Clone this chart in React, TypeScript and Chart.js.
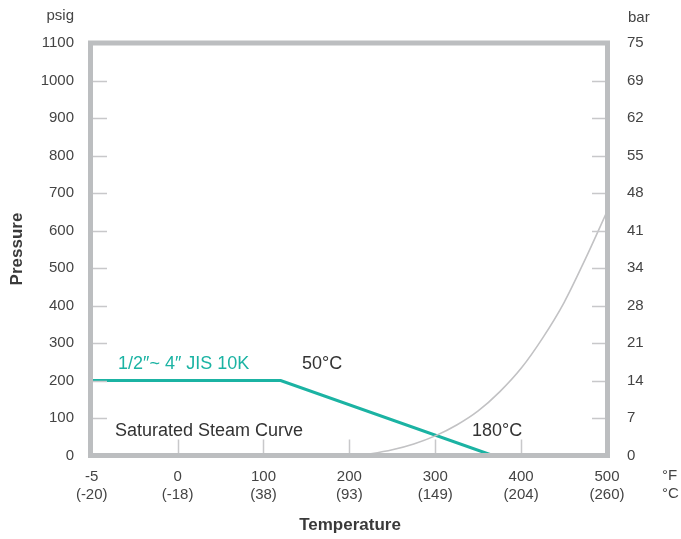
import React, { useEffect, useRef } from "react";
import { Chart, registerables } from "chart.js";

Chart.register(...registerables);

// Axis labels
const tempFLabels = ["-5", "0", "100", "200", "300", "400", "500"];
const tempCLabels = ["(-20)", "(-18)", "(38)", "(93)", "(149)", "(204)", "(260)"];
const psigTicks = [0, 100, 200, 300, 400, 500, 600, 700, 800, 900, 1000, 1100];
const barLabels = ["0", "7", "14", "21", "28", "34", "41", "48", "55", "62", "69", "75"];

// JIS 10K rating line (°F, psig)
const jisTempF = [-5, 120, 367];
const jisPsig = [200, 200, 0];

// Saturated steam curve (°F, psig)
const steamTempF = [212, 225, 250, 275, 300, 325, 350, 375, 400, 425, 450, 475, 500];
const steamPsig = [0, 4.3, 15.1, 30.7, 52.3, 81.4, 119.0, 169.7, 232.5, 313.1, 407.9, 525, 650.6];

// axis position: -5 -> 0, 0 -> 1, 100 -> 2, ... 500 -> 6
const pos = (f: number) => (f < 0 ? (f + 5) / 5 : 1 + f / 100);

const FONT = '"Liberation Sans", Arial, Helvetica, sans-serif';
const TEXT = "#444444";
const TEAL = "#1bb3a3";
const FRAME = "#bcbec0";
const TICK = "#c8c8ca";

const decor = {
  id: "decor",
  afterDatasetsDraw(chart: any) {
    const { ctx, chartArea: a, scales } = chart;
    const x = scales.x;
    const y = scales.y;
    ctx.save();
    // short ticks
    ctx.strokeStyle = TICK;
    ctx.lineWidth = 1.5;
    ctx.beginPath();
    for (let i = 1; i < psigTicks.length - 1; i++) {
      const py = Math.round(y.getPixelForValue(psigTicks[i])) + 0.5;
      ctx.moveTo(a.left, py);
      ctx.lineTo(a.left + 17, py);
      ctx.moveTo(a.right - 15, py);
      ctx.lineTo(a.right, py);
    }
    for (let i = 1; i < tempFLabels.length - 1; i++) {
      const px = Math.round(x.getPixelForValue(i)) + 0.5;
      ctx.moveTo(px, a.bottom);
      ctx.lineTo(px, a.bottom - 16);
    }
    ctx.stroke();
    // frame
    ctx.strokeStyle = FRAME;
    ctx.lineWidth = 5;
    ctx.strokeRect(a.left + 0.5, a.top, a.right - a.left, a.bottom - a.top);

    // annotations
    ctx.font = `18px ${FONT}`;
    ctx.textBaseline = "middle";
    ctx.textAlign = "left";
    ctx.fillStyle = TEAL;
    ctx.fillText("1/2″~ 4″ JIS 10K", 118, 364);
    ctx.fillStyle = "#333333";
    ctx.fillText("50°C", 302, 364);
    ctx.fillText("Saturated Steam Curve", 115, 431);
    ctx.fillText("180°C", 472, 431);

    // unit labels
    ctx.font = `15px ${FONT}`;
    ctx.fillStyle = TEXT;
    ctx.textAlign = "right";
    ctx.fillText("psig", 74, 16);
    ctx.textAlign = "left";
    ctx.fillText("bar", 628, 18);
    ctx.fillText("°F", 662, 476);
    ctx.fillText("°C", 662, 494);

    // axis titles
    ctx.font = `bold 17px ${FONT}`;
    ctx.fillStyle = "#3a3a3a";
    ctx.textAlign = "center";
    ctx.fillText("Temperature", 350, 525);
    ctx.save();
    ctx.translate(17, 249);
    ctx.rotate(-Math.PI / 2);
    ctx.fillText("Pressure", 0, 0);
    ctx.restore();
    ctx.restore();
  },
};

export default function App() {
  const ref = useRef<HTMLCanvasElement>(null);
  useEffect(() => {
    document.body.style.margin = "0";
    const canvas = ref.current!;
    const chart = new Chart(canvas, {
      type: "line",
      data: {
        datasets: [
          {
            label: "Saturated Steam Curve",
            data: steamTempF.map((f, i) => ({ x: pos(f), y: steamPsig[i] })),
            borderColor: "#c2c2c4",
            borderWidth: 1.6,
            pointRadius: 0,
            cubicInterpolationMode: "monotone",
            fill: false,
          },
          {
            label: "1/2″~ 4″ JIS 10K",
            data: jisTempF.map((f, i) => ({ x: pos(f), y: jisPsig[i] })),
            borderColor: TEAL,
            borderWidth: 3,
            pointRadius: 0,
            tension: 0,
            fill: false,
          },
        ],
      },
      options: {
        responsive: false,
        animation: false,
        devicePixelRatio: 1,
        layout: { padding: { top: 43, left: 0, right: 0, bottom: 0 } },
        plugins: { legend: { display: false }, tooltip: { enabled: false }, title: { display: false } },
        scales: {
          x: {
            type: "linear",
            position: "bottom",
            min: -0.02,
            max: 6,
            grid: { display: false, drawTicks: false },
            border: { display: false },
            afterBuildTicks: (s: any) => {
              s.ticks = tempFLabels.map((_, i) => ({ value: i }));
            },
            afterFit: (s: any) => {
              s.height = 83.5;
            },
            ticks: {
              autoSkip: false,
              maxRotation: 0,
              padding: 12,
              color: TEXT,
              font: { size: 15, family: FONT, lineHeight: 1.2 },
              callback: (v: any) => {
                const i = Math.round(Number(v));
                return [tempFLabels[i], tempCLabels[i]];
              },
            },
          },
          y: {
            type: "linear",
            position: "left",
            min: 0,
            max: 1100,
            grid: { display: false, drawTicks: false },
            border: { display: false },
            afterBuildTicks: (s: any) => {
              s.ticks = psigTicks.map((v) => ({ value: v }));
            },
            afterFit: (s: any) => {
              s.width = 90;
            },
            ticks: {
              padding: 16,
              color: TEXT,
              font: { size: 15, family: FONT },
              callback: (v: any) => String(v),
            },
          },
          y2: {
            type: "linear",
            position: "right",
            min: 0,
            max: 1100,
            grid: { display: false, drawTicks: false },
            border: { display: false },
            afterBuildTicks: (s: any) => {
              s.ticks = psigTicks.map((v) => ({ value: v }));
            },
            afterFit: (s: any) => {
              s.width = 74;
            },
            ticks: {
              padding: 20,
              color: TEXT,
              font: { size: 15, family: FONT },
              callback: (v: any) => barLabels[psigTicks.indexOf(Number(v))] ?? "",
            },
          },
        },
      },
      plugins: [decor],
    } as any);
    return () => chart.destroy();
  }, []);
  return (
    <div style={{ width: 681, height: 539 }}>
      <canvas ref={ref} width={681} height={539} style={{ display: "block" }} />
    </div>
  );
}
